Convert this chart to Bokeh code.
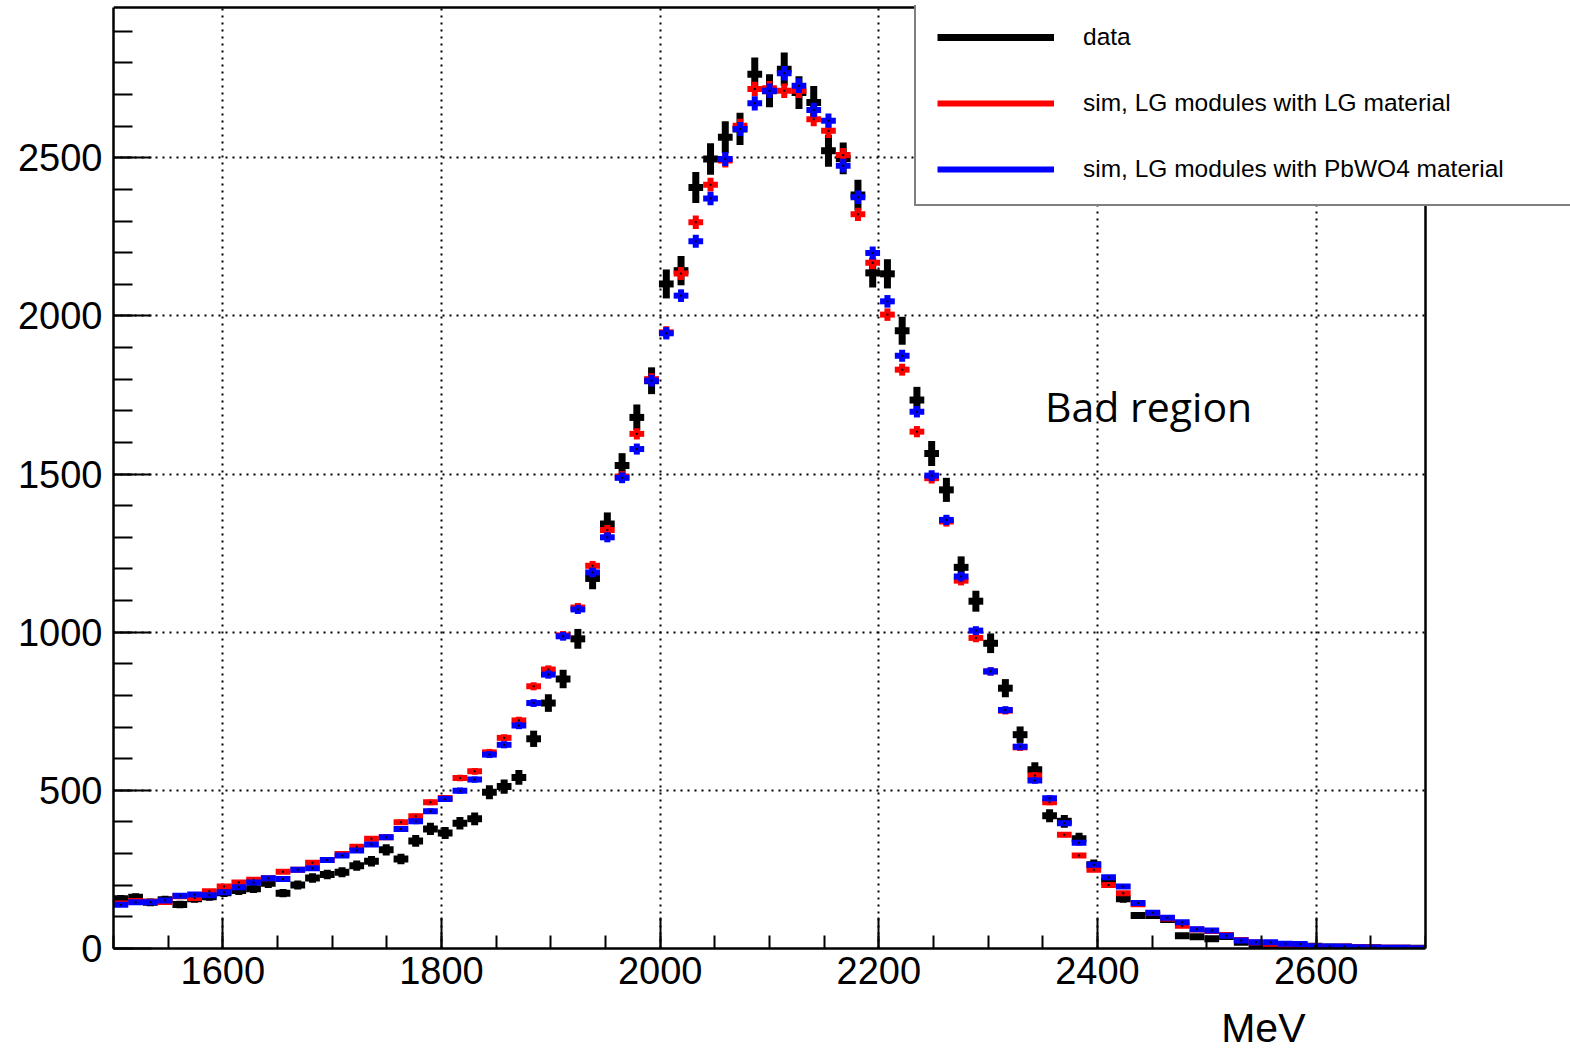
import numpy as np
from bokeh.plotting import figure
from bokeh.models import (ColumnDataSource, SingleIntervalTicker, Legend, LegendItem, Label, Title,
                          BoxAnnotation, Span, Range1d)
from bokeh.embed import file_html
from bokeh.resources import INLINE

# ---------------- data ----------------
x_lo, x_hi, n_bins = 1500.0, 2700.0, 89
y_top = 2975.0

data_counts = [157, 162, 146, 154, 139, 157, 164, 176, 183, 189,
               206, 175, 201, 223, 234, 241, 262, 276, 312, 283,
               340, 378, 365, 396, 410, 494, 512, 541, 663, 776,
               852, 979, 1170, 1342, 1527, 1679, 1795, 2101, 2143, 2406,
               2496, 2565, 2591, 2764, 2712, 2780, 2706, 2675, 2522, 2498,
               2382, 2136, 2133, 1953, 1734, 1565, 1450, 1205, 1098, 965,
               823, 676, 565, 420, 402, 347, 265, 213, 157, 104,
               104, 92, 40, 37, 31, 38, 20, 8, 8, 10,
               9, 7, 5, 4, 2, 2, 1, 1, 1]

sim_lg = [142, 150, 148, 147, 165, 160, 181, 196, 209, 217,
          222, 243, 249, 271, 280, 299, 322, 347, 352, 399,
          418, 462, 476, 539, 560, 620, 666, 721, 829, 882,
          990, 1078, 1210, 1323, 1492, 1627, 1800, 1948, 2134, 2296,
          2415, 2491, 2601, 2717, 2720, 2712, 2712, 2622, 2585, 2509,
          2321, 2168, 2004, 1830, 1634, 1487, 1350, 1163, 982, 876,
          752, 636, 547, 462, 360, 294, 249, 201, 175, 140,
          112, 95, 72, 60, 55, 43, 27, 19, 15, 12,
          12, 7, 5, 6, 4, 3, 2, 2, 1]

sim_pbwo4 = [138, 146, 146, 152, 167, 171, 168, 178, 194, 209,
             222, 220, 249, 254, 280, 294, 310, 329, 352, 378,
             402, 434, 473, 499, 534, 613, 644, 705, 776, 866,
             987, 1072, 1189, 1300, 1488, 1579, 1795, 1945, 2064, 2236,
             2371, 2496, 2591, 2672, 2712, 2767, 2728, 2651, 2617, 2475,
             2375, 2199, 2046, 1874, 1697, 1495, 1355, 1176, 1005, 876,
             754, 638, 531, 475, 396, 334, 265, 225, 196, 144,
             113, 97, 83, 61, 57, 40, 25, 20, 20, 15,
             14, 7, 6, 6, 4, 3, 2, 2, 1]

labels = ["data", "sim, LG modules with LG material", "sim, LG modules with PbWO4 material"]
colors = ["black", "#ff0000", "#0000ff"]
widths = [7, 6, 6]
err_scale = [1.0, 0.44, 0.44]   # statistical error scale (sim is weighted)

edges = np.linspace(x_lo, x_hi, n_bins + 1)
centers = 0.5 * (edges[:-1] + edges[1:])

# ---------------- figure ----------------
FONT = "Liberation Sans"
W, H = 1570, 1050
left_b, top_b, bottom_b = 113, 5, 102
frame_w = W - left_b
frame_h = H - top_b - bottom_b
px_per_x = 1312.0 / (x_hi - x_lo)        # plotted box is 1312 px wide
px_per_y = 941.0 / y_top                 # plotted box is 941 px tall
view_x_hi = x_lo + frame_w / px_per_x    # frame runs to the canvas edge so the legend is not clipped
view_y_hi = frame_h / px_per_y

p = figure(width=W, height=H, x_range=Range1d(x_lo, view_x_hi), y_range=Range1d(0, view_y_hi),
           output_backend="svg", toolbar_location=None,
           min_border_left=left_b, min_border_right=0, min_border_top=top_b,
           min_border_bottom=bottom_b)
p.background_fill_color = "white"
p.border_fill_color = "white"
p.outline_line_color = None

p.xaxis.ticker = SingleIntervalTicker(interval=200, num_minor_ticks=4)
p.yaxis.ticker = SingleIntervalTicker(interval=500, num_minor_ticks=5)
p.xaxis.bounds = (x_lo, x_hi)
p.yaxis.bounds = (0, y_top)
for ax in (p.xaxis[0], p.yaxis[0]):
    ax.axis_line_color = "black"
    ax.axis_line_width = 2.5
    ax.major_tick_line_color = "black"
    ax.minor_tick_line_color = "black"
    ax.major_tick_line_width = 2
    ax.minor_tick_line_width = 2
    ax.major_tick_out = 0
    ax.minor_tick_out = 0
    ax.major_label_text_font = FONT
    ax.major_label_text_font_size = "38px"
    ax.major_label_text_color = "black"
p.xaxis.major_tick_in = 31
p.xaxis.minor_tick_in = 13
p.yaxis.major_tick_in = 38
p.yaxis.minor_tick_in = 19
p.xaxis.major_label_standoff = 8
p.yaxis.major_label_standoff = 11
# blank spacer label that pushes the "MeV" title a little lower
p.xaxis.axis_label = " "
p.xaxis.axis_label_text_font_size = "8px"
p.xaxis.axis_label_standoff = 4

for g in (p.xgrid[0], p.ygrid[0]):
    g.grid_line_color = "black"
    g.grid_line_width = 2
    g.grid_line_dash = "2 5"

series = [data_counts, sim_lg, sim_pbwo4]
leg_renderers = []
for vals, col, lw, es in zip(series, colors, widths, err_scale):
    v = np.array(vals, dtype=float)
    err = es * np.sqrt(v)
    src = ColumnDataSource(dict(x=centers, xl=edges[:-1], xr=edges[1:], y=v,
                                ylo=v - err, yhi=v + err))
    h = p.segment(x0="xl", y0="y", x1="xr", y1="y", source=src,
                  line_color=col, line_width=lw, line_cap="butt")
    p.segment(x0="x", y0="ylo", x1="x", y1="yhi", source=src,
              line_color=col, line_width=lw, line_cap="butt")
    p.scatter(x="x", y="y", source=src, marker="square", size=2,
              fill_color="black", line_color=None)
    leg_renderers.append(h)

# white cover outside the histogram box (hides grid beyond the right edge)
p.add_layout(BoxAnnotation(left=x_hi, fill_color="white", fill_alpha=1.0, line_alpha=0))
# right and top borders of the histogram box
p.add_layout(Span(location=x_hi, dimension="height", line_color="black", line_width=2.5))
p.add_layout(Span(location=y_top, dimension="width", line_color="black", line_width=2.5))

legend = Legend(items=[LegendItem(label=l, renderers=[r]) for l, r in zip(labels, leg_renderers)],
                location=(801, 742), orientation="vertical",
                border_line_color="black", border_line_width=2,
                background_fill_color="white", background_fill_alpha=1.0,
                padding=21, margin=0, spacing=38,
                glyph_width=117, glyph_height=28,
                label_standoff=29, label_width=470, label_height=28,
                label_text_font=FONT, label_text_font_size="24.5px",
                label_text_color="black")
p.add_layout(legend)

p.add_layout(Label(x=2352, y=1716, text="Bad region", text_font="Open Sans",
                   text_font_size="41px", text_color="black",
                   text_baseline="alphabetic", text_align="left"))

p.add_layout(Title(text="MeV", align="right", offset=265, standoff=0,
                   text_font=FONT, text_font_size="41px", text_font_style="normal",
                   text_color="black"), "below")

open("out.html", "w").write(file_html(p, INLINE))
